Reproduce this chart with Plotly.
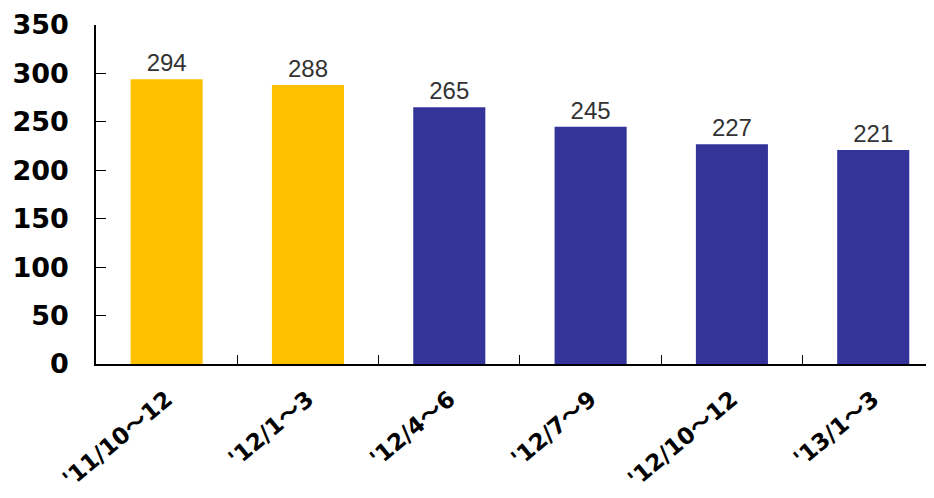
import plotly.graph_objects as go

categories = ["'11/10～12", "'12/1～3", "'12/4～6", "'12/7～9", "'12/10～12", "'13/1～3"]
values = [294, 288, 265, 245, 227, 221]
colors = ["#FFC000", "#FFC000", "#333399", "#333399", "#333399", "#333399"]
y_ticks = [0, 50, 100, 150, 200, 250, 300, 350]

fig = go.Figure(go.Bar(
    x=categories, y=values,
    marker=dict(color=colors, line=dict(width=0)),
    width=0.51,
    text=[str(v) for v in values],
    textposition="outside",
    textfont=dict(family="Liberation Sans", size=24, color="#333333"),
    cliponaxis=False,
))

fig.update_layout(
    width=926, height=490,
    margin=dict(l=88, r=0, t=17, b=134),
    paper_bgcolor="white", plot_bgcolor="white",
    showlegend=False,
    bargap=0.49,
)
fig.update_yaxes(
    range=[0, 350], tickvals=y_ticks,
    showline=True, linecolor="black", linewidth=1.5,
    ticks="inside", ticklen=10, tickcolor="black",
    showgrid=False, zeroline=False, automargin=False,
    tickfont=dict(family="DejaVu Sans", size=27, color="black", weight="bold"),
    ticklabelstandoff=20,
)
fig.update_xaxes(
    range=[-0.5, 5.43],
    showline=True, linecolor="black", linewidth=1.5,
    ticks="inside", ticklen=9, tickcolor="black", tickson="boundaries",
    showgrid=False, automargin=False,
    tickangle=-40,
    tickfont=dict(family="DejaVu Sans, Noto Sans CJK KR", size=23, color="black", weight="bold"),
    ticklabelstandoff=11,
)

fig.write_html("out.html")
